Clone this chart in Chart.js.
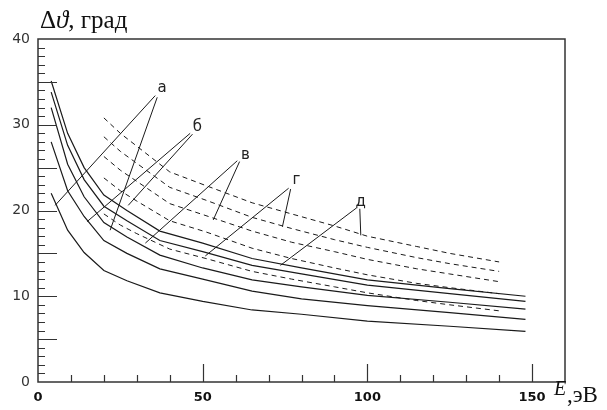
<!DOCTYPE html>
<html>
<head>
<meta charset="utf-8">
<script src="https://cdn.jsdelivr.net/npm/chart.js@4.4.1/dist/chart.umd.min.js"></script>
<style>
  html, body { margin: 0; padding: 0; background: #fff; }
  #wrap { width: 607px; height: 410px; position: relative; }
</style>
</head>
<body>
<div id="wrap"><canvas id="chart"></canvas></div>
<script>
// Energy grid of the solid curves (E, eV)
const solidX = [4, 9, 14, 20, 27, 37, 50, 65, 80, 100, 125, 148];
const solid1 = [35.1, 29.0, 25.0, 21.8, 20.0, 17.6, 16.2, 14.4, 13.3, 11.9, 10.9, 10.0];
const solid2 = [33.8, 27.6, 23.6, 20.5, 18.8, 16.5, 15.2, 13.6, 12.6, 11.3, 10.3, 9.4];
const solid3 = [32.0, 25.4, 21.6, 18.6, 16.9, 14.8, 13.3, 11.9, 11.1, 10.1, 9.3, 8.5];
const solid4 = [28.0, 22.3, 19.3, 16.5, 15.0, 13.2, 12.0, 10.6, 9.7, 8.9, 8.1, 7.3];
const solid5 = [22.0, 17.7, 15.1, 13.0, 11.8, 10.4, 9.4, 8.4, 7.9, 7.1, 6.5, 5.9];

// Energy grid of the dashed curves
const dashX = [20, 25, 30, 40, 51, 65, 77, 90, 100, 115, 125, 140];
const dash1 = [30.8, 29.0, 27.5, 24.5, 22.9, 20.9, 19.6, 18.2, 17.0, 15.8, 15.0, 14.0];
const dash2 = [28.6, 26.9, 25.5, 22.7, 21.2, 19.2, 17.9, 16.6, 15.7, 14.5, 13.8, 12.9];
const dash3 = [26.3, 24.7, 23.4, 20.8, 19.4, 17.6, 16.3, 15.2, 14.3, 13.2, 12.6, 11.7];
const dash4 = [23.8, 22.3, 21.1, 18.8, 17.5, 15.6, 14.4, 13.3, 12.5, 11.5, 11.0, 10.3];
const dash5 = [19.6, 18.3, 17.3, 15.5, 14.4, 12.9, 12.0, 11.1, 10.4, 9.5, 9.0, 8.3];

// Curve labels and their leader lines, in data units [x, y]
const markNames = ['а', 'б', 'в', 'г', 'д'];
const markPos = [[37.7, 34.3], [48.4, 29.7], [63.0, 26.5], [78.5, 23.6], [98.0, 21.0]];
const leaderA = [[[35.6, 33.4], [5.2, 20.6]], [[36.2, 33.2], [21.9, 17.7]]];
const leaderB = [[[46.2, 29.0], [14.9, 18.7]], [[46.9, 28.9], [27.4, 20.6]]];
const leaderV = [[[60.5, 25.8], [32.6, 16.2]], [[61.2, 25.7], [53.2, 18.9]]];
const leaderG = [[[76.1, 22.6], [50.8, 14.7]], [[76.7, 22.5], [74.2, 18.1]]];
const leaderD = [[[96.7, 20.3], [73.6, 13.6]], [[97.7, 20.2], [98.0, 17.1]]];
const leaders = [leaderA, leaderB, leaderV, leaderG, leaderD];

const lineColor = '#1a1a1a';
const axisColor = '#333';

function pts(xs, ys) {
	return xs.map((x, i) => ({ x, y: ys[i] }));
}

function solid(ys) {
	return { data: pts(solidX, ys), borderColor: lineColor, borderWidth: 1.2, pointRadius: 0, tension: 0, fill: false };
}

function dashed(ys) {
	return { data: pts(dashX, ys), borderColor: lineColor, borderWidth: 1, borderDash: [5, 4], pointRadius: 0, tension: 0, fill: false };
}

// inward ticks, frame, labels and axis titles
const decor = {
	id: 'decor',
	afterDraw(chart) {
		const ctx = chart.ctx;
		const { left, right, top, bottom } = chart.chartArea;
		const xs = chart.scales.x;
		const ys = chart.scales.y;
		ctx.save();
		ctx.strokeStyle = axisColor;
		ctx.lineWidth = 1.5;
		ctx.strokeRect(left, top, right - left, bottom - top);

		ctx.lineWidth = 1.2;
		ctx.beginPath();
		ys.ticks.forEach(t => {
			const v = t.value;
			if (v <= 0 || v >= 40) return;
			const len = v % 5 === 0 ? 19 : 7;
			const py = Math.round(ys.getPixelForValue(v)) + 0.5;
			ctx.moveTo(left, py);
			ctx.lineTo(left + len, py);
		});
		xs.ticks.forEach(t => {
			const v = t.value;
			if (v <= 0 || v > 150) return;
			const len = v % 50 === 0 ? 18 : 7;
			const px = Math.round(xs.getPixelForValue(v)) + 0.5;
			ctx.moveTo(px, bottom);
			ctx.lineTo(px, bottom - len);
		});
		ctx.stroke();

		// leader lines
		ctx.strokeStyle = lineColor;
		ctx.lineWidth = 1;
		ctx.beginPath();
		leaders.forEach(pair => {
			pair.forEach(([a, b]) => {
				ctx.moveTo(xs.getPixelForValue(a[0]), ys.getPixelForValue(a[1]));
				ctx.lineTo(xs.getPixelForValue(b[0]), ys.getPixelForValue(b[1]));
			});
		});
		ctx.stroke();

		ctx.fillStyle = '#222';
		ctx.font = '15px "DejaVu Sans"';
		ctx.textAlign = 'center';
		ctx.textBaseline = 'middle';
		markNames.forEach((n, i) => {
			ctx.fillText(n, xs.getPixelForValue(markPos[i][0]), ys.getPixelForValue(markPos[i][1]));
		});

		// axis titles
		ctx.fillStyle = '#111';
		ctx.textAlign = 'left';
		ctx.textBaseline = 'alphabetic';
		ctx.font = '25px "Liberation Serif"';
		ctx.fillText('Δ', 40, 28);
		let w = ctx.measureText('Δ').width;
		ctx.font = 'italic 25px "Liberation Serif"';
		ctx.fillText('ϑ', 40 + w, 28);
		w += ctx.measureText('ϑ').width;
		ctx.font = '25px "Liberation Serif"';
		ctx.fillText(', град', 40 + w, 28);

		ctx.font = 'italic 20px "Liberation Serif"';
		ctx.fillText('E', 554, 395);
		ctx.font = '23px "Liberation Serif"';
		ctx.fillText(',эВ', 567, 402);
		ctx.restore();
	}
};

new Chart(document.getElementById('chart'), {
	type: 'line',
	data: {
		datasets: [
			solid(solid1), solid(solid2), solid(solid3), solid(solid4), solid(solid5),
			dashed(dash1), dashed(dash2), dashed(dash3), dashed(dash4), dashed(dash5)
		]
	},
	options: {
		responsive: true,
		maintainAspectRatio: false,
		animation: false,
		layout: { padding: { top: 39, right: 42, left: 0, bottom: 0 } },
		plugins: { legend: { display: false }, tooltip: { enabled: false }, title: { display: false } },
		scales: {
			x: {
				type: 'linear', min: 0, max: 160,
				grid: { display: false, drawTicks: false },
				border: { display: false },
				afterFit: (s) => { s.height = 28; },
				ticks: {
					stepSize: 10, autoSkip: false, maxRotation: 0, padding: 8,
					color: '#111', font: { family: 'DejaVu Sans', size: 13, weight: 'bold' },
					callback: (v) => (v % 50 === 0 && v <= 150 ? String(v) : '')
				}
			},
			y: {
				type: 'linear', min: 0, max: 40,
				grid: { display: false, drawTicks: false },
				border: { display: false },
				afterFit: (s) => { s.width = 38; },
				ticks: {
					stepSize: 1, autoSkip: false, padding: 8,
					color: '#333', font: { family: 'DejaVu Sans', size: 14 },
					callback: (v) => (v % 10 === 0 ? String(v) : '')
				}
			}
		}
	},
	plugins: [decor]
});
</script>
</body>
</html>
